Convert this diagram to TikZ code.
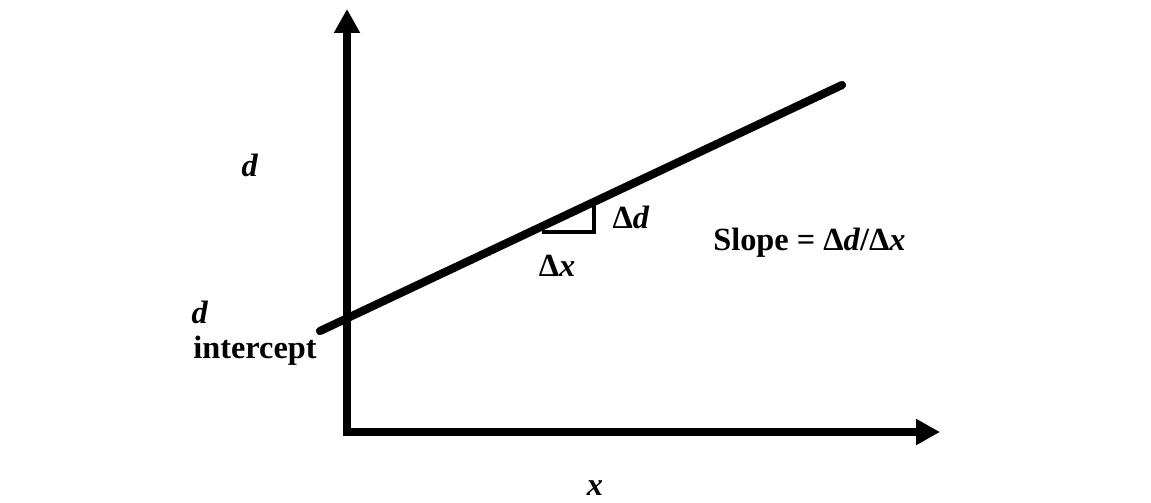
\documentclass[tikz,border=0pt]{standalone}
\usepackage{fontspec}
\setmainfont{Liberation Serif}
\usetikzlibrary{arrows.meta}
\tikzset{
  lbl/.style={inner sep=0pt,font=\fontsize{23}{27}\selectfont\bfseries},
  axis/.style={line width=6.2pt,{Triangle[length=17pt,width=17.5pt]}-{Triangle[length=17pt,width=17.5pt]}},
}
\begin{document}
\begin{tikzpicture}[x=.025cm,y=-.025cm,line join=miter]
  \useasboundingbox (0,0) rectangle (1151,502);
  % axes, fitted line and the small slope triangle
  \coordinate (origin) at (347,432);
  \coordinate (ytip) at (347,9);
  \coordinate (xtip) at (940,432);
  \draw[axis] (ytip) -- (origin) -- (xtip);
  \coordinate (lstart) at (320,331);
  \coordinate (lend) at (842,85);
  \draw[line width=5.8pt,line cap=round] (lstart) -- (lend);
  \coordinate (ta) at (542,232);
  \coordinate (tb) at (594,232);
  \coordinate (tc) at (594,203);
  \draw[line width=2.9pt] (ta) -- (tb) -- (tc);
  \node[lbl] (dtop) at (250,165) {\textit{d}};
  \node[lbl] (dlow) at (200,312) {\textit{d}};
  \node[lbl] (icpt) at (255,351) {intercept};
  \node[lbl] (dd) at (631,217) {Δ\textit{d}};
  \node[lbl] (dx) at (557,266) {Δ\textit{x}};
  \node[lbl,anchor=west] (slope) at (713,243) {Slope = Δ\textit{d}/Δ\textit{x}};
  \node[lbl] (xlab) at (595,488) {\textit{x}};
\end{tikzpicture}
\end{document}
